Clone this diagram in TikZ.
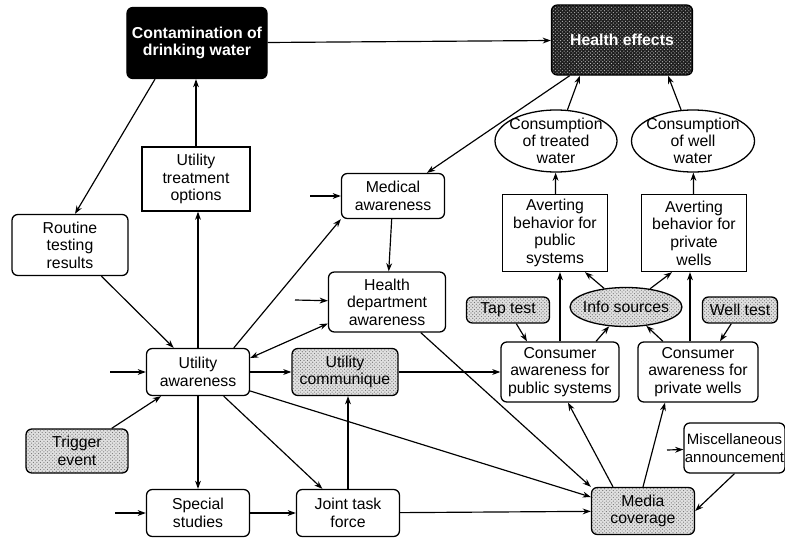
\documentclass[tikz,border=0pt]{standalone}
\usepackage{fontspec}
\setmainfont{Liberation Sans}
\usetikzlibrary{shapes.geometric,patterns,arrows.meta}

\tikzset{
  box/.style={draw, rounded corners=5pt, align=center, line width=1.1pt, inner sep=1pt},
  sqbox/.style={draw, align=center, line width=1.1pt, inner sep=1pt},
  oval/.style={draw, ellipse, align=center, line width=1.1pt, inner sep=-3pt},
  speck/.style={preaction={fill=black!12}, pattern=crosshatch dots, pattern color=black!55},
  darkbox/.style={fill=black, text=white, font=\fontsize{13.5}{15}\selectfont\bfseries},
  darkspeck/.style={preaction={fill=black!88}, pattern=crosshatch dots, pattern color=white!75!black,
    text=white, font=\fontsize{13.5}{15}\selectfont\bfseries},
}

\begin{document}
\begin{tikzpicture}[x=0.03cm, y=-0.03cm, >={Stealth[length=7pt,width=5pt]}, line width=1pt,
  font=\fontsize{13.5}{15}\selectfont]
\useasboundingbox (0,0) rectangle (785,538);

\node[box, darkbox, minimum width=4.2cm, minimum height=2.13cm] (contam) at (197,43) {Contamination of\\drinking water};
\node[box, darkspeck, minimum width=4.23cm, minimum height=2.1cm] (health) at (622,40) {Health effects};
\node[sqbox, minimum width=3.24cm, minimum height=1.92cm] (treat) at (196,179) {Utility\\treatment\\options};
\node[box, minimum width=3.48cm, minimum height=1.83cm] (routine) at (70,245) {Routine\\testing\\results};
\node[box, minimum width=3.09cm, minimum height=1.35cm] (medaw) at (393,196) {Medical\\awareness};
\node[box, minimum width=3.51cm, minimum height=1.8cm] (hdept) at (387,302) {Health\\department\\awareness};
\node[box, minimum width=3.09cm, minimum height=1.41cm] (utilaw) at (198,372) {Utility\\awareness};
\node[box, speck, minimum width=3.18cm, minimum height=1.41cm] (comm) at (345,372) {Utility\\communique};
\node[box, speck, minimum width=3.06cm, minimum height=1.32cm] (trigger) at (77,451) {Trigger\\event};
\node[box, minimum width=3.09cm, minimum height=1.41cm] (special) at (198,513) {Special\\studies};
\node[box, minimum width=3.09cm, minimum height=1.41cm] (joint) at (348,513) {Joint task\\force};
\node[box, speck, minimum width=3.09cm, minimum height=1.41cm] (media) at (643,511) {Media\\coverage};
\node[box, minimum width=3.03cm, minimum height=1.5cm, inner sep=0pt, font=\fontsize{12.8}{15.5}\selectfont] (misc) at (734.5,448) {Miscellaneous\\announcement};
\node[box, minimum width=3.54cm, minimum height=1.8cm] (conspub) at (560,372) {Consumer\\awareness for\\public systems};
\node[box, minimum width=3.6cm, minimum height=1.8cm] (conspriv) at (698,372) {Consumer\\awareness for\\private wells};
\node[box, speck, minimum width=2.49cm, minimum height=0.78cm] (tap) at (508,310) {Tap test};
\node[oval, speck, minimum width=3.06cm, minimum height=1.17cm] (info) at (626,307) {Info sources};
\node[box, speck, minimum width=2.25cm, minimum height=0.78cm] (well) at (740,310) {Well test};
\node[sqbox, minimum width=3.15cm, minimum height=2.31cm] (avpub) at (555,233) {Averting\\behavior for\\public\\systems};
\node[sqbox, minimum width=3.15cm, minimum height=2.31cm] (avpriv) at (694,233) {Averting\\behavior for\\private\\wells};
\node[oval, minimum width=3.66cm, minimum height=1.86cm, font=\fontsize{13.5}{14.5}\selectfont] (constreat) at (556,141) {Consumption\\of treated\\water};
\node[oval, minimum width=3.69cm, minimum height=1.86cm, font=\fontsize{13.5}{14.5}\selectfont] (conswell) at (693,141) {Consumption\\of well\\water};

\coordinate (inutil) at (110,372);
\coordinate (inspec) at (115,513);
\coordinate (inmed) at (310,196);
\coordinate (inhd) at (295,300);
\coordinate (inmisc) at (667,450);

\draw[->] (contam) -- (health);
\draw[->] (health) -- (medaw);
\draw[->] ([shift={(-42,0)}]contam.south) -- ([shift={(5,0)}]routine.north);
\draw[->] (treat.north) -- (treat.north |- contam.south);
\draw[->] (utilaw.north) -- (utilaw.north |- treat.south);
\draw[->] (routine) -- (utilaw);
\draw[->] (trigger) -- (utilaw);
\draw[->] (inutil) -- (utilaw);
\draw[->] (utilaw) -- (special);
\draw[->] (inspec) -- (special);
\draw[->] (special) -- (joint);
\draw[->] (utilaw) -- (joint);
\draw[->] (joint.north) -- (joint.north |- comm.south);
\draw[->] (utilaw) -- (comm);
\draw[->] (comm) -- (conspub);
\draw[->] (utilaw.34) -- (medaw.south west);
\draw[->] (inmed) -- (medaw);
\draw[->] (medaw) -- (hdept);
\draw[->] (inhd) -- (hdept);
\draw[<->] (utilaw.15) -- (hdept.200);
\draw[->] (hdept) -- (media.north west);
\draw[->] (utilaw.-20) -- (media.165);
\draw[->] (joint) -- (media);
\draw[->] ([shift={(-30,0)}]media.north) -- ([shift={(8,0)}]conspub.south);
\draw[->] (media.north) -- ([shift={(-33,0)}]conspriv.south);
\draw[->] (inmisc) -- (misc);
\draw[->] (misc.south) -- (media.east);
\draw[->] (tap) -- ([shift={(-33,0)}]conspub.north);
\draw[->] ([shift={(36,0)}]conspub.north) -- (info);
\draw[->] ([shift={(-35,0)}]conspriv.north) -- (info);
\draw[->] (info) -- ([shift={(30,0)}]avpub.south);
\draw[->] (info) -- ([shift={(-22,0)}]avpriv.south);
\draw[->] (conspub.north) -- (conspub.north |- avpub.south);
\draw[->] ([shift={(-8,0)}]conspriv.north) -- ([shift={(-8,0)}]conspriv.north |- avpriv.south);
\draw[->] (well) -- ([shift={(22,0)}]conspriv.north);
\draw[->] (avpub) -- (constreat);
\draw[->] (avpriv) -- (conswell);
\draw[->] (constreat) -- ([shift={(-42,0)}]health.south);
\draw[->] (conswell) -- ([shift={(46,0)}]health.south);
\end{tikzpicture}
\end{document}
